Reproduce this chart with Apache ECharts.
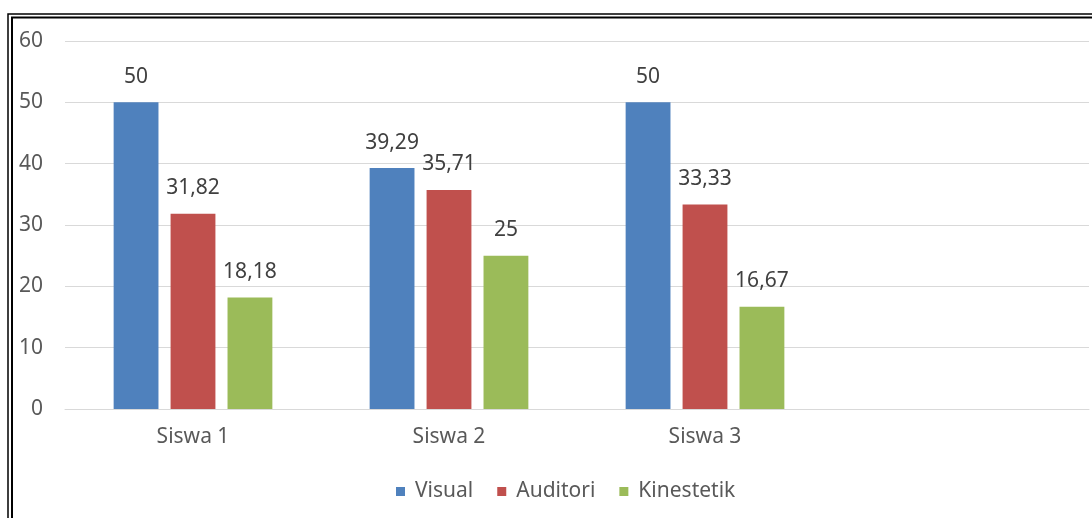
<!DOCTYPE html>
<html><head><meta charset="utf-8">
<script src="https://cdn.jsdelivr.net/npm/echarts@6/dist/echarts.min.js"></script>
<style>html,body{margin:0;padding:0;background:#fff}#c{width:1092px;height:518px}</style>
</head><body><div id="c"></div>
<script>
var categories = ['Siswa 1', 'Siswa 2', 'Siswa 3', ''];
var seriesNames = ['Visual', 'Auditori', 'Kinestetik'];
var visual = [50, 39.29, 50, null];
var auditori = [31.82, 35.71, 33.33, null];
var kinestetik = [18.18, 25, 16.67, null];
var colors = ['#4F81BD', '#C0504D', '#9BBB59'];
var font = '"Noto Sans", "Open Sans", sans-serif';

function mk(name, data, color) {
  return {
    name: name, type: 'bar', data: data,
    barGap: '27%', barCategoryGap: '38%',
    itemStyle: { color: color },
    label: { show: true, position: 'top', distance: 15, color: '#404040', fontSize: 21, fontFamily: font,
      formatter: function (p) { return String(p.value).replace('.', ','); } }
  };
}
var chart = echarts.init(document.getElementById('c'), null, { renderer: 'canvas' });
chart.setOption({
  animation: false,
  backgroundColor: '#fff',
  color: colors,
  grid: { left: 65, right: 3, top: 41, bottom: 109, containLabel: false },
  xAxis: {
    type: 'category', data: categories,
    axisLine: { lineStyle: { color: '#D9D9D9', width: 1 } },
    axisTick: { show: false },
    axisLabel: { color: '#595959', fontSize: 21, fontFamily: font, margin: 18 }
  },
  yAxis: {
    type: 'value', min: 0, max: 60, interval: 10,
    axisLine: { show: false }, axisTick: { show: false },
    splitLine: { lineStyle: { color: '#D9D9D9', width: 1 } },
    axisLabel: { color: '#595959', fontSize: 21, fontFamily: font, margin: 22 }
  },
  legend: {
    bottom: 11, left: 391, itemWidth: 9, itemHeight: 9, itemGap: 24,
    icon: 'rect',
    textStyle: { color: '#595959', fontSize: 21, fontFamily: font, padding: [0, 0, 0, 5] },
    data: seriesNames
  },
  graphic: [
    { type: 'rect', shape: { x: 8, y: 14, width: 1200, height: 700 }, style: { fill: 'none', stroke: '#000', lineWidth: 1.5 }, silent: true },
    { type: 'rect', shape: { x: 12, y: 17.5, width: 1200, height: 700 }, style: { fill: 'none', stroke: '#000', lineWidth: 2 }, silent: true }
  ],
  series: [mk(seriesNames[0], visual, colors[0]), mk(seriesNames[1], auditori, colors[1]), mk(seriesNames[2], kinestetik, colors[2])]
});
</script></body></html>
